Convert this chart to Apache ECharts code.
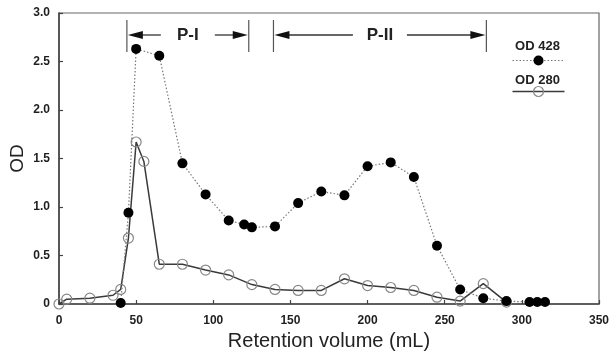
<!DOCTYPE html>
<html>
<head>
<meta charset="utf-8">
<script src="https://cdn.jsdelivr.net/npm/echarts@6/dist/echarts.min.js"></script>
<style>
  html, body { margin: 0; padding: 0; background: #fff; }
  #chart { width: 612px; height: 356px; }
</style>
</head>
<body>
<div id="chart"></div>
<script>
// Elution profile: absorbance at 428 nm and 280 nm vs retention volume
const od428Volume = [40, 45, 50, 65, 80, 95, 110, 120, 125, 140, 155, 170, 185, 200, 215, 230, 245, 260, 275, 290, 305, 310, 315];
const od428Value  = [0.01, 0.94, 2.63, 2.56, 1.45, 1.13, 0.86, 0.82, 0.79, 0.80, 1.04, 1.16, 1.12, 1.42, 1.46, 1.31, 0.60, 0.15, 0.06, 0.03, 0.02, 0.02, 0.02];

const od280Volume = [0, 5, 20, 35, 40, 45, 50, 55, 65, 80, 95, 110, 125, 140, 155, 170, 185, 200, 215, 230, 245, 260, 275, 290];
const od280Value  = [0.00, 0.05, 0.06, 0.09, 0.15, 0.68, 1.67, 1.47, 0.41, 0.41, 0.35, 0.30, 0.20, 0.15, 0.14, 0.14, 0.26, 0.19, 0.17, 0.14, 0.07, 0.03, 0.21, 0.02];

// Pooled fractions (retention volume ranges)
const poolNames = ['P-I', 'P-II'];
const poolStart = [44, 139];
const poolEnd   = [123, 277];

const xTicks = [0, 50, 100, 150, 200, 250, 300, 350];
const yTicks = [0, 0.5, 1.0, 1.5, 2.0, 2.5, 3.0];

const FONT = '"Liberation Sans", Arial, Helvetica, sans-serif';

const zip = (xs, ys) => xs.map((x, i) => [x, ys[i]]);

const chart = echarts.init(document.getElementById('chart'), null, { renderer: 'canvas' });

const axisCommon = {
  axisLine: { show: true, onZero: false, lineStyle: { color: '#444', width: 1.6 } },
  axisTick: { show: true, inside: true, length: 4, lineStyle: { color: '#444', width: 1.2 } },
  splitLine: { show: false },
  axisLabel: { color: '#1e1e1e', fontFamily: FONT, fontWeight: 'bold', fontSize: 12 }
};

chart.setOption({
  animation: false,
  backgroundColor: '#fff',
  grid: {
    left: 59, right: 13, top: 13, bottom: 52,
    containLabel: false,
    outerBoundsMode: 'none',
    show: true, borderColor: '#666', borderWidth: 1.2, backgroundColor: 'transparent'
  },
  xAxis: Object.assign({}, axisCommon, {
    type: 'value',
    min: xTicks[0], max: xTicks[xTicks.length - 1], interval: 50,
    name: 'Retention volume (mL)',
    nameLocation: 'middle', nameGap: 27,
    nameMoveOverlap: false,
    nameTextStyle: { color: '#222', fontFamily: FONT, fontSize: 20 },
    axisLabel: Object.assign({}, axisCommon.axisLabel, { margin: 11 })
  }),
  yAxis: Object.assign({}, axisCommon, {
    type: 'value',
    min: yTicks[0], max: yTicks[yTicks.length - 1], interval: 0.5,
    name: 'OD',
    nameLocation: 'middle', nameGap: 32,
    nameMoveOverlap: false,
    nameTextStyle: { color: '#222', fontFamily: FONT, fontSize: 19 },
    axisLabel: Object.assign({}, axisCommon.axisLabel, {
      margin: 9,
      formatter: v => (v === 0 ? '0' : v.toFixed(1))
    })
  }),
  series: [
    {
      name: 'OD 280',
      type: 'line',
      data: zip(od280Volume, od280Value),
      symbol: 'circle',
      symbolSize: 10,
      lineStyle: { color: '#3a3a3a', width: 1.5 },
      itemStyle: { color: 'rgba(255,255,255,0)', borderColor: '#888', borderWidth: 1.2 },
      z: 2
    },
    {
      name: 'OD 428',
      type: 'line',
      data: zip(od428Volume, od428Value),
      symbol: 'circle',
      symbolSize: 10,
      lineStyle: { color: '#777', width: 1.2, type: [1.5, 2] },
      itemStyle: { color: '#000' },
      z: 3
    },
    {
      name: 'pools',
      type: 'custom',
      clip: false,
      silent: true,
      encode: { x: [0, 1] },
      data: poolStart.map((s, i) => [s, poolEnd[i]]),
      renderItem: function (params, api) {
        const top = api.coord([0, 3])[1];
        const y = top + 22;
        const xa = api.coord([api.value(0), 3])[0];
        const xb = api.coord([api.value(1), 3])[0];
        const xm = (xa + xb) / 2;
        const gap = 27, head = 16, half = 4;
        const bar = { stroke: '#555', lineWidth: 1.2 };
        const shaft = { stroke: '#333', lineWidth: 1.3 };
        return {
          type: 'group',
          children: [
            { type: 'line', shape: { x1: xa, y1: y - 15, x2: xa, y2: y + 17 }, style: bar },
            { type: 'line', shape: { x1: xb, y1: y - 15, x2: xb, y2: y + 17 }, style: bar },
            { type: 'line', shape: { x1: xa + head - 2, y1: y, x2: xm - gap, y2: y }, style: shaft },
            { type: 'line', shape: { x1: xm + gap, y1: y, x2: xb - head + 2, y2: y }, style: shaft },
            { type: 'polygon', shape: { points: [[xa + 1, y], [xa + head, y - half], [xa + head, y + half]] }, style: { fill: '#111' } },
            { type: 'polygon', shape: { points: [[xb - 1, y], [xb - head, y - half], [xb - head, y + half]] }, style: { fill: '#111' } },
            {
              type: 'text',
              style: {
                text: poolNames[params.dataIndex],
                x: xm, y: y,
                align: 'center', verticalAlign: 'middle',
                font: 'bold 17px ' + FONT,
                fill: '#222'
              }
            }
          ]
        };
      },
      z: 4
    }
  ],
  graphic: [
    // key: label above a sample of each series' line and marker
    {
      type: 'group', left: 510, top: 40, silent: true,
      children: [
        { type: 'text', style: { text: 'OD 428', x: 29, y: 8, align: 'center', verticalAlign: 'middle', font: 'bold 13px ' + FONT, fill: '#222' } },
        { type: 'line', shape: { x1: 4, y1: 22, x2: 56, y2: 22 }, style: { stroke: '#777', lineWidth: 1.2, lineDash: [1.5, 2] } },
        { type: 'circle', shape: { cx: 30, cy: 22, r: 5 }, style: { fill: '#000' } },
        { type: 'text', style: { text: 'OD 280', x: 29, y: 42, align: 'center', verticalAlign: 'middle', font: 'bold 13px ' + FONT, fill: '#222' } },
        { type: 'line', shape: { x1: 4, y1: 53, x2: 56, y2: 53 }, style: { stroke: '#3a3a3a', lineWidth: 1.5 } },
        { type: 'circle', shape: { cx: 30, cy: 53, r: 5 }, style: { fill: 'rgba(255,255,255,0)', stroke: '#888', lineWidth: 1.2 } }
      ]
    }
  ]
});
</script>
</body>
</html>
